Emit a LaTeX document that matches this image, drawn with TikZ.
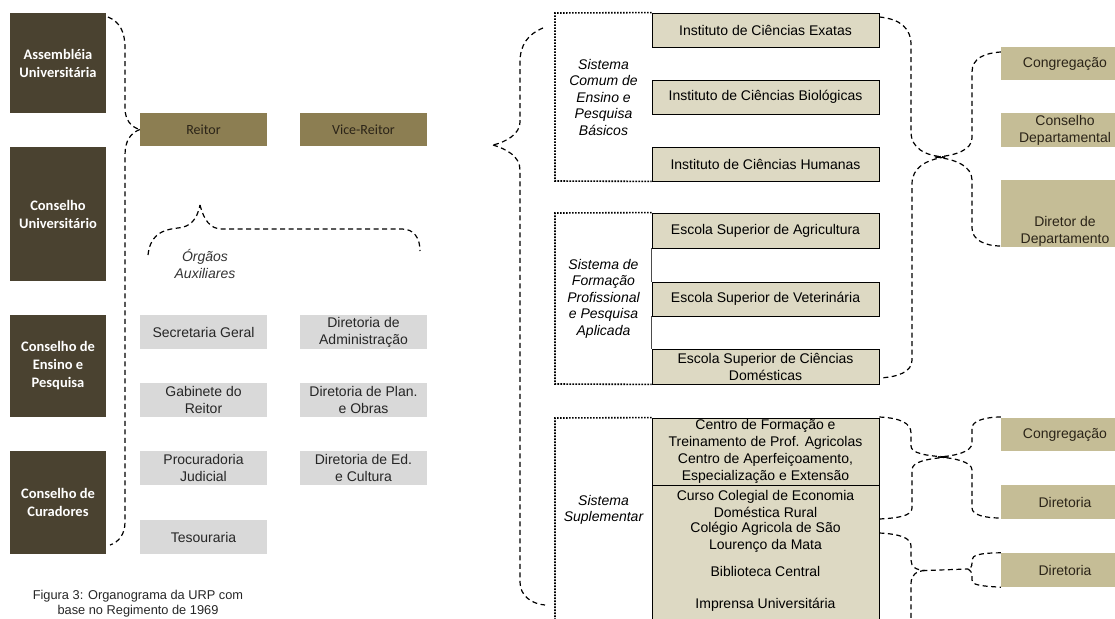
\documentclass[tikz,border=0pt]{standalone}
\usepackage{fontspec}
\setmainfont{Liberation Sans}
\newfontfamily\calfont{Carlito}
\definecolor{darkbrown}{HTML}{4A4230}
\definecolor{olivehead}{HTML}{8C7E52}
\definecolor{lightgrey}{HTML}{D9D9D9}
\definecolor{paletan}{HTML}{DDD9C3}
\definecolor{sand}{HTML}{C5BD96}
\definecolor{inkdark}{HTML}{2B2418}
\tikzset{
  darkbox/.style={fill=darkbrown, minimum width=96pt, inner sep=0pt, text=white,
    align=center, font=\calfont\bfseries\fontsize{14.5}{18}\selectfont},
  headbox/.style={fill=olivehead, minimum width=127pt, minimum height=33pt, inner sep=0pt,
    text=inkdark, font=\calfont\fontsize{14}{16}\selectfont},
  greybox/.style={fill=lightgrey, minimum width=127pt, minimum height=34pt, inner sep=0pt,
    align=center, text=black!85, font=\fontsize{14}{17}\selectfont},
  unitbox/.style={fill=paletan, draw=black, line width=0.8pt, minimum width=227pt,
    minimum height=34pt, inner sep=0pt, align=center, font=\fontsize{14}{17}\selectfont},
  unittext/.style={inner sep=0pt, align=center, font=\fontsize{14}{17}\selectfont},
  sidebox/.style={fill=sand, minimum width=128pt, minimum height=33pt, inner sep=0pt,
    align=center, text=inkdark, font=\fontsize{14}{17}\selectfont},
  systext/.style={inner sep=0pt, align=center, font=\itshape\fontsize{14}{16.5}\selectfont},
  brace/.style={dashed, line width=1.2pt, dash pattern=on 5pt off 3.5pt},
  sysframe/.style={line width=1.6pt, dash pattern=on 1.6pt off 1.4pt},
}
\begin{document}
\begin{tikzpicture}[x=1pt,y=-1pt]
\useasboundingbox (0,0) rectangle (1115,618);
\clip (0,0) rectangle (1115,618);

% ---------------- left chart: councils ----------------
\node[darkbox, minimum height=100pt] (asm) at (58,63)    {Assembléia\\Universitária};
\node[darkbox, minimum height=134pt] (cu)  at (58,214)   {Conselho\\Universitário};
\node[darkbox, minimum height=102pt] (cep) at (58,366)   {Conselho de\\Ensino e\\Pesquisa};
\node[darkbox, minimum height=103pt] (cc)  at (58,502.5) {Conselho de\\Curadores};

\node[headbox] (reitor) at (203.5,129.5) {Reitor};
\node[headbox] (vice)   at (363.5,129.5) {Vice-Reitor};

\node[greybox] (sg)   at (203.5,332) {Secretaria Geral};
\node[greybox] (gab)  at (203.5,400) {Gabinete do\\Reitor};
\node[greybox] (proc) at (203.5,468) {Procuradoria\\Judicial};
\node[greybox] (tes)  at (203.5,537) {Tesouraria};
\node[greybox] (dadm) at (363.5,332) {Diretoria de\\Administração};
\node[greybox] (dpo)  at (363.5,400) {Diretoria de Plan.\\e Obras};
\node[greybox] (dec)  at (363.5,468) {Diretoria de Ed.\\e Cultura};

% councils brace pointing to the rector
\coordinate (ltop) at (108,17);
\coordinate (lbot) at (110,545);
\draw[brace] (ltop) .. controls (120,22) and (125,32) .. (125,48) -- (125,108)
  .. controls (125,120) and (131,127) .. (reitor.west);
\draw[brace] (reitor.west) .. controls (131,133) and (125,140) .. (125,155) -- (125,522)
  .. controls (125,534) and (119,542) .. (lbot);

% auxiliary bodies brace
\coordinate (atip) at (200,205);
\coordinate (aleft) at (148,255);
\coordinate (aright) at (420,251);
\draw[brace] (aleft) .. controls (150,238) and (158,230) .. (178,228)
  .. controls (190,227) and (197,220) .. (atip);
\draw[brace] (atip) .. controls (204,220) and (210,229) .. (222,229) -- (402,229)
  .. controls (414,229) and (420,238) .. (aright);
\node[systext, text=black!80] (aux) at (205,264) {Órgãos\\Auxiliares};

\node[inner sep=0pt, align=center, text=black!85, font=\fontsize{12.8}{15}\selectfont]
  (cap) at (138,603.5) {Figura 3: Organograma da URP com\\base no Regimento de 1969};

% ---------------- right chart: systems ----------------
\node[unitbox] (ice) at (765.5,30)  {Instituto de Ciências Exatas};
\node[unitbox] (icb) at (765.5,97)  {Instituto de Ciências Biológicas};
\node[unitbox] (ich) at (765.5,164) {Instituto de Ciências Humanas};
\draw[sysframe] (ice.north west) -- (555,13) -- (555,181) -- (ich.south west);
\node[systext] (s1) at (603.5,97) {Sistema\\Comum de\\Ensino e\\Pesquisa\\Básicos};

\node[unitbox, minimum height=35pt] (esa)  at (765.5,230.5) {Escola Superior de Agricultura};
\node[unitbox] (esv)  at (765.5,299) {Escola Superior de Veterinária};
\node[unitbox, minimum height=35pt] (escd) at (765.5,366.5) {Escola Superior de Ciências\\Domésticas};
\draw[line width=0.8pt, black!70] (esa.south west) -- (esv.north west) (esv.south west) -- (escd.north west);
\draw[sysframe] (esa.north west) -- (555,213) -- (555,384) -- (escd.south west);
\node[systext] (s2) at (603.5,298.5) {Sistema de\\Formação\\Profissional\\e Pesquisa\\Aplicada};

\node[unitbox, minimum height=67pt] (supa) at (765.5,451.5) {};
\node[unitbox, minimum height=140pt] (supb) at (765.5,555) {};
\node[unittext] (cft) at (765.5,434.5) {Centro de Formação e\\Treinamento de Prof. Agricolas};
\node[unittext] (cae) at (765.5,468.5) {Centro de Aperfeiçoamento,\\Especialização e Extensão};
\node[unittext] (cce) at (765.5,503.5) {Curso Colegial de Economia\\Doméstica Rural};
\node[unittext] (cas) at (765.5,537.5) {Colégio Agricola de São\\Lourenço da Mata};
\node[unittext] (bib) at (765.5,571)   {Biblioteca Central};
\node[unittext] (imp) at (765.5,605)   {Imprensa Universitária};
\draw[sysframe] (supa.north west) -- (555,418) -- (555,625);
\node[systext] (s3) at (603.5,510) {Sistema\\Suplementar};

% brace grouping the three systems
\coordinate (rtop) at (543,28);
\coordinate (rtip) at (493,145);
\coordinate (rbot) at (545,605);
\draw[brace] (rtop) .. controls (528,34) and (520,45) .. (520,62) -- (520,122)
  .. controls (520,134) and (506,142) .. (rtip);
\draw[brace] (rtip) .. controls (506,149) and (520,156) .. (520,170) -- (520,582)
  .. controls (520,596) and (532,604) .. (rbot);

% ---------------- departments column ----------------
\node[sidebox] (cong1) at (1065,63.5) {Congregação};
\node[sidebox, minimum height=34pt] (cdep) at (1065,130) {Conselho\\Departamental};
\node[sidebox, minimum height=67pt] (ddep) at (1065,213.5) {};
\node[unittext, text=inkdark] (ddept) at (1065,231) {Diretor de\\Departamento};
\node[sidebox] (cong2) at (1065,434.5) {Congregação};
\node[sidebox, minimum height=34pt] (dir1) at (1065,502) {Diretoria};
\node[sidebox, minimum height=34pt] (dir2) at (1065,570) {Diretoria};

% schools and institutes -> department bodies
\coordinate (b1tip) at (945,157);
\coordinate (b2tip) at (935,157);
\draw[brace] (ice.east |- 0,17) .. controls (900,19) and (911,28) .. (911,45) -- (911,132)
  .. controls (911,148) and (925,156) .. (b1tip);
\draw[brace] (b1tip) .. controls (925,160) and (912,168) .. (912,184) -- (912,360)
  .. controls (912,372) and (898,377) .. (escd.east |- 0,378);
\draw[brace] (cong1.west |- 0,52) .. controls (985,53) and (972,58) .. (972,72) -- (972,138)
  .. controls (972,150) and (955,156) .. (b2tip);
\draw[brace] (b2tip) .. controls (955,159) and (972,166) .. (972,180) -- (972,228)
  .. controls (972,240) and (985,246) .. (ddep.west |- 0,246);

% supplementary centres -> congregation / board
\coordinate (b3tip) at (948,457);
\coordinate (b4tip) at (938,457);
\draw[brace] (supa.east |- 0,417) .. controls (900,418) and (911,423) .. (911,433) -- (911,446)
  .. controls (911,453) and (925,456) .. (b3tip);
\draw[brace] (b3tip) .. controls (925,459) and (912,462) .. (912,470) -- (912,508)
  .. controls (912,516) and (898,518) .. (supb.east |- 0,519);
\draw[brace] (cong2.west |- 0,417) .. controls (985,417) and (972,421) .. (972,428) -- (972,443)
  .. controls (972,452) and (955,456) .. (b4tip);
\draw[brace] (b4tip) .. controls (955,458) and (972,462) .. (972,470) -- (972,508)
  .. controls (972,515) and (985,518) .. (dir1.west |- 0,518);

% library and press -> board
\coordinate (b5a) at (925,570.5);
\coordinate (b5tip) at (968,569);
\draw[brace] (supb.east |- 0,533) .. controls (900,534) and (911,538) .. (911,546) -- (911,560)
  .. controls (911,567) and (916,570) .. (b5a) -- (b5tip);
\draw[brace] (b5a) .. controls (916,571) and (911,575) .. (911,584) -- (911,625);
\draw[brace] (dir2.north west) .. controls (980,553) and (972,555) .. (972,560) -- (972,563)
  .. controls (972,567) and (970,568.5) .. (b5tip);
\draw[brace] (b5tip) .. controls (970,570) and (972,572) .. (972,576) -- (972,580)
  .. controls (972,585) and (980,586) .. (dir2.south west);
\end{tikzpicture}
\end{document}
